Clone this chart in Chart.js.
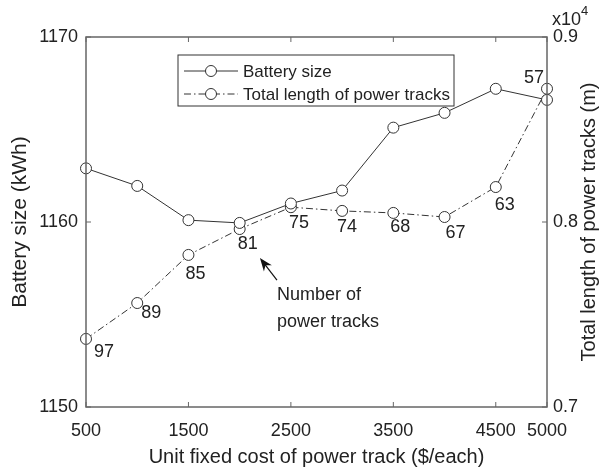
<!DOCTYPE html>
<html>
<head>
<meta charset="utf-8">
<script src="https://cdn.jsdelivr.net/npm/chart.js@4.4.1/dist/chart.umd.min.js"></script>
<style>
  html, body { margin: 0; padding: 0; background: #fff; }
  canvas { display: block; }
</style>
</head>
<body>
<canvas id="chart" width="600" height="468"></canvas>
<script>
// data
const unitCosts = [500, 1000, 1500, 2000, 2500, 3000, 3500, 4000, 4500, 5000];
const batterySizes = [1162.9, 1161.95, 1160.1, 1159.95, 1161.0, 1161.7, 1165.1, 1165.9, 1167.2, 1166.6];
const trackLengths = [7368, 7562, 7822, 7962, 8080, 8060, 8049, 8027, 8189, 8720];
const trackCounts = [97, 89, 85, 81, 75, 74, 68, 67, 63, 57];

const xTicks = [500, 1500, 2500, 3500, 4500, 5000];
const leftTicks = [1150, 1160, 1170];
const rightTicks = [7000, 8000, 9000];

// where each count label sits relative to its point (px)
const labelOffsets = [[18, 13], [14, 10], [7, 19], [8, 15], [8, 16], [5, 16], [7, 14], [11, 16], [9, 18], [-13, -11]];

const FONT = '"Liberation Sans", Arial, sans-serif';
const INK = '#333';
const BOX = '#666';
const TEXT = '#222';

const toPoints = (ys) => unitCosts.map((x, i) => ({ x, y: ys[i] }));

// box, inward ticks, legend, labels, arrow, right title
const figurePlugin = {
    id: 'figure',
    afterDatasetsDraw(chart) {
        const { ctx, chartArea: a, scales } = chart;
        const x = scales.x, yL = scales.y, yR = scales.y2;
        ctx.save();

        // count labels next to the track length points
        ctx.font = '18px ' + FONT;
        ctx.fillStyle = TEXT;
        ctx.textAlign = 'center';
        ctx.textBaseline = 'middle';
        const meta = chart.getDatasetMeta(1);
        meta.data.forEach((pt, i) => {
            const [dx, dy] = labelOffsets[i];
            ctx.fillText(String(trackCounts[i]), pt.x + dx, pt.y + dy);
        });

        // annotation arrow
        const tailX = x.getPixelForValue(2364), tailY = yL.getPixelForValue(1156.86);
        const tipX = x.getPixelForValue(2198), tipY = yL.getPixelForValue(1158.05);
        const ang = Math.atan2(tipY - tailY, tipX - tailX);
        const c = Math.cos(ang), s = Math.sin(ang);
        ctx.strokeStyle = '#111';
        ctx.fillStyle = '#111';
        ctx.lineWidth = 1.2;
        ctx.beginPath();
        ctx.moveTo(tailX, tailY);
        ctx.lineTo(tipX - 8 * c, tipY - 8 * s);
        ctx.stroke();
        ctx.beginPath();
        ctx.moveTo(tipX, tipY);
        ctx.lineTo(tipX - 13 * c + 5 * s, tipY - 13 * s - 5 * c);
        ctx.lineTo(tipX - 9 * c, tipY - 9 * s);
        ctx.lineTo(tipX - 13 * c - 5 * s, tipY - 13 * s + 5 * c);
        ctx.closePath();
        ctx.fill();

        ctx.fillStyle = TEXT;
        ctx.textAlign = 'left';
        const noteX = x.getPixelForValue(2364), noteY = yL.getPixelForValue(1156.05);
        ctx.fillText('Number of', noteX, noteY);
        ctx.fillText('power tracks', noteX, noteY + 27);

        // axes box
        ctx.strokeStyle = BOX;
        ctx.lineWidth = 1.5;
        ctx.strokeRect(a.left, a.top, a.right - a.left, a.bottom - a.top);

        // inward tick marks
        ctx.lineWidth = 1;
        ctx.beginPath();
        xTicks.forEach(v => {
            const px = x.getPixelForValue(v);
            ctx.moveTo(px, a.bottom); ctx.lineTo(px, a.bottom - 5);
            ctx.moveTo(px, a.top); ctx.lineTo(px, a.top + 5);
        });
        leftTicks.forEach(v => {
            const py = yL.getPixelForValue(v);
            ctx.moveTo(a.left, py); ctx.lineTo(a.left + 5, py);
        });
        rightTicks.forEach(v => {
            const py = yR.getPixelForValue(v);
            ctx.moveTo(a.right, py); ctx.lineTo(a.right - 5, py);
        });
        ctx.stroke();

        // legend
        const lx = 178, ly = 55, lw = 276, lh = 51;
        ctx.fillStyle = '#fff';
        ctx.fillRect(lx, ly, lw, lh);
        ctx.strokeStyle = INK;
        ctx.lineWidth = 1;
        ctx.strokeRect(lx, ly, lw, lh);
        ctx.font = '17px ' + FONT;
        chart.data.datasets.forEach((ds, i) => {
            const rowY = ly + 16 + i * 23;
            ctx.strokeStyle = ds.borderColor;
            ctx.lineWidth = ds.borderWidth;
            ctx.setLineDash(ds.borderDash || []);
            ctx.beginPath();
            ctx.moveTo(lx + 6, rowY);
            ctx.lineTo(lx + 60, rowY);
            ctx.stroke();
            ctx.setLineDash([]);
            ctx.beginPath();
            ctx.arc(lx + 33, rowY, ds.pointRadius, 0, Math.PI * 2);
            ctx.fillStyle = '#fff';
            ctx.fill();
            ctx.stroke();
            ctx.fillStyle = TEXT;
            ctx.textAlign = 'left';
            ctx.fillText(ds.label, lx + 65, rowY + 1);
        });

        // right axis title (reads bottom to top) and exponent
        ctx.save();
        ctx.font = '20px ' + FONT;
        ctx.translate(589, (a.top + a.bottom) / 2);
        ctx.rotate(-Math.PI / 2);
        ctx.textAlign = 'center';
        ctx.fillText('Total length of power tracks (m)', 0, 0);
        ctx.restore();
        ctx.textAlign = 'left';
        ctx.textBaseline = 'alphabetic';
        ctx.font = '18px ' + FONT;
        ctx.fillText('x10', 552, 25);
        ctx.font = '13px ' + FONT;
        ctx.fillText('4', 581, 15);

        ctx.restore();
    }
};

new Chart(document.getElementById('chart'), {
    type: 'line',
    data: {
        datasets: [
            {
                label: 'Battery size',
                data: toPoints(batterySizes),
                yAxisID: 'y',
                borderColor: INK,
                borderWidth: 1,
                pointRadius: 5.5,
                pointBackgroundColor: '#fff',
                pointBorderColor: INK,
                pointBorderWidth: 1,
                clip: false
            },
            {
                label: 'Total length of power tracks',
                data: toPoints(trackLengths),
                yAxisID: 'y2',
                borderColor: INK,
                borderWidth: 1,
                borderDash: [7, 3, 1.5, 3],
                pointRadius: 5.5,
                pointBackgroundColor: '#fff',
                pointBorderColor: INK,
                pointBorderWidth: 1,
                clip: false
            }
        ]
    },
    options: {
        responsive: false,
        animation: false,
        layout: { padding: { top: 37, left: 0, right: 0, bottom: 0 } },
        plugins: { legend: { display: false }, tooltip: { enabled: false } },
        scales: {
            x: {
                type: 'linear',
                min: 500,
                max: 5000,
                afterBuildTicks: (s) => { s.ticks = xTicks.map(v => ({ value: v })); },
                afterFit: (s) => { s.height = 61; },
                grid: { display: false, drawTicks: false },
                border: { display: false },
                ticks: {
                    color: TEXT,
                    font: { family: FONT, size: 18 },
                    padding: 13,
                    maxRotation: 0,
                    callback: (v) => String(v)
                },
                title: {
                    display: true,
                    text: 'Unit fixed cost of power track ($/each)',
                    color: TEXT,
                    font: { family: FONT, size: 20 },
                    padding: { top: 0, bottom: -1 }
                }
            },
            y: {
                position: 'left',
                min: 1150,
                max: 1170,
                afterBuildTicks: (s) => { s.ticks = leftTicks.map(v => ({ value: v })); },
                afterFit: (s) => { s.width = 86; },
                grid: { display: false, drawTicks: false },
                border: { display: false },
                ticks: {
                    color: TEXT,
                    font: { family: FONT, size: 18 },
                    padding: 8,
                    callback: (v) => String(v)
                },
                title: {
                    display: true,
                    text: 'Battery size (kWh)',
                    color: TEXT,
                    font: { family: FONT, size: 21 },
                    padding: { top: 8, bottom: 0 }
                }
            },
            y2: {
                position: 'right',
                min: 7000,
                max: 9000,
                afterBuildTicks: (s) => { s.ticks = rightTicks.map(v => ({ value: v })); },
                afterFit: (s) => { s.width = 53; },
                grid: { display: false, drawTicks: false },
                border: { display: false },
                ticks: {
                    color: TEXT,
                    font: { family: FONT, size: 18 },
                    padding: 6,
                    callback: (v) => (v / 10000).toFixed(1)
                }
            }
        }
    },
    plugins: [figurePlugin]
});
</script>
</body>
</html>
